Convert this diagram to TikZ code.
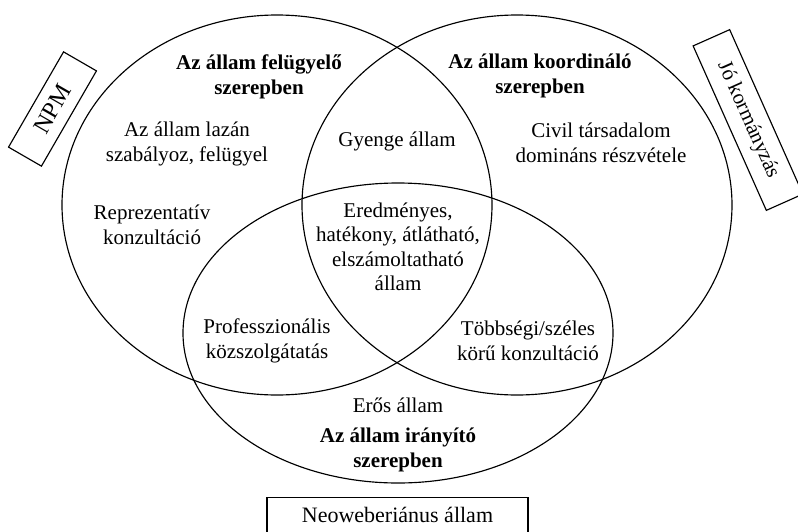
\documentclass[tikz,border=0pt]{standalone}
\usepackage{fontspec}
\setmainfont{Liberation Serif}
\begin{document}
\begin{tikzpicture}[x=1pt,y=-1pt,line width=1.15pt,
  lbl/.style={align=center,font=\fontsize{21}{24.5}\selectfont,inner sep=0pt},
  blbl/.style={align=center,font=\fontsize{21}{25}\selectfont\bfseries,inner sep=0pt},
  setline/.style={draw,line width=1.15pt},
  tagbox/.style={draw,line width=1.15pt,font=\fontsize{21}{24}\selectfont,inner sep=0pt}]
\useasboundingbox (0,0) rectangle (798,531);
\clip (0,0) rectangle (798,531);
% sets
\draw[setline] (277,205) ellipse [x radius=215pt,y radius=190pt];
\draw[setline] (517,205) ellipse [x radius=215pt,y radius=190pt];
\draw[setline] (398,333) ellipse [x radius=215pt,y radius=150pt];
% labels
\node[blbl] (felugy) at (259,77) {Az állam felügyelő\\szerepben};
\node[blbl] (koord) at (540,76) {Az állam koordináló\\szerepben};
\node[lbl] (lazan) at (187,144) {Az állam lazán\\szabályoz, felügyel};
\node[lbl] (repr) at (152,225) {Reprezentatív\\konzultáció};
\node[lbl] (gyenge) at (397,141) {Gyenge állam};
\node[lbl] (civil) at (601,143) {Civil társadalom\\domináns részvétele};
\node[lbl] (ered) at (398,247) {Eredményes,\\hatékony, átlátható,\\elszámoltatható\\állam};
\node[lbl] (prof) at (267,341) {Professzionális\\közszolgátatás};
\node[lbl] (tobb) at (528,341) {Többségi/széles\\körű konzultáció};
\node[lbl] (eros) at (398,405) {Erős állam};
\node[blbl] (iranyito) at (398,450) {Az állam irányító\\szerepben};
% tag boxes
\node[tagbox,rotate=60,minimum width=110,minimum height=38,font=\fontsize{24}{24}\selectfont] (npm) at (52.5,109) {NPM};
\node[tagbox,rotate=-66,minimum width=180,minimum height=40] (jo) at (748,120) {Jó kormányzás};
\node[tagbox,anchor=north,minimum width=261,inner ysep=9pt,text height=16pt,text depth=20pt,font=\fontsize{22}{24}\selectfont] (neo) at (397.5,497) {Neoweberiánus állam};
\end{tikzpicture}
\end{document}
